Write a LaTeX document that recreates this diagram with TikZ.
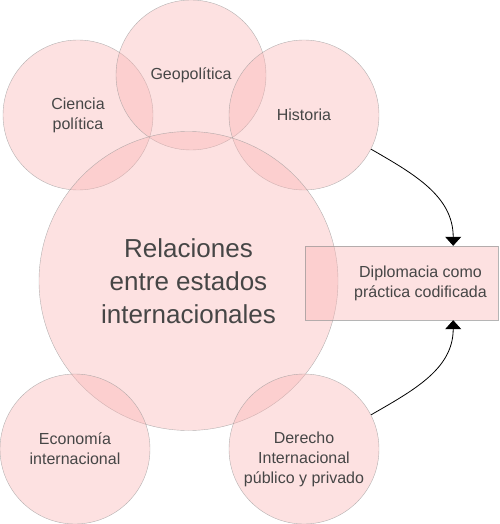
\documentclass[tikz,border=0pt]{standalone}
\usepackage{fontspec}
\setmainfont{Liberation Sans}
\usetikzlibrary{arrows.meta}
\definecolor{rosa}{RGB}{250,180,180}
\definecolor{borde}{RGB}{150,150,150}
\definecolor{texto}{RGB}{70,70,70}
\begin{document}
\begin{tikzpicture}[x=1pt,y=-1pt,
		campo/.style={circle,draw=borde,fill=rosa,fill opacity=0.4,draw opacity=0.7,text opacity=1,text=texto,minimum size=150pt,inner sep=0pt,align=center,font=\fontsize{16}{20}\selectfont},
		etiqueta/.style={text=texto,align=center,font=\fontsize{16}{20}\selectfont},
		flecha/.style={-{Triangle[width=16pt,length=9pt]},line width=0.8pt}]
		\useasboundingbox (0,0) rectangle (499,524);
		\node[campo] (ciencia) at (78,115) {Ciencia\\pol\'itica};
		\node[campo] (geo) at (191,75) {Geopol\'itica};
		\node[campo] (historia) at (304,115) {Historia};
		\node[campo,minimum size=299pt,font=\fontsize{26}{33}\selectfont] (rel) at (188.5,281) {Relaciones\\entre estados\\internacionales};
		\node[campo] (eco) at (75,449) {Econom\'ia\\internacional};
		\node[campo] (derecho) at (304,449) {};
		\node[etiqueta] at ([yshift=-10pt]derecho) {Derecho\\Internacional\\p\'ublico y privado};
		\node[campo,rectangle,minimum width=193pt,minimum height=74pt] (diplo) at (401.5,283) {};
		\node[etiqueta] at ([xshift=19pt]diplo) {Diplomacia como\\pr\'actica codificada};
		
		\draw[flecha] (historia.-27) to[out=-30,in=90] ([xshift=-45pt]diplo.north east);
		\draw[flecha] (derecho.27) to[out=30,in=-90] ([xshift=-45pt]diplo.south east);
		%\draw[flecha] (rel) -- (diplo);
	\end{tikzpicture}
\end{document}
